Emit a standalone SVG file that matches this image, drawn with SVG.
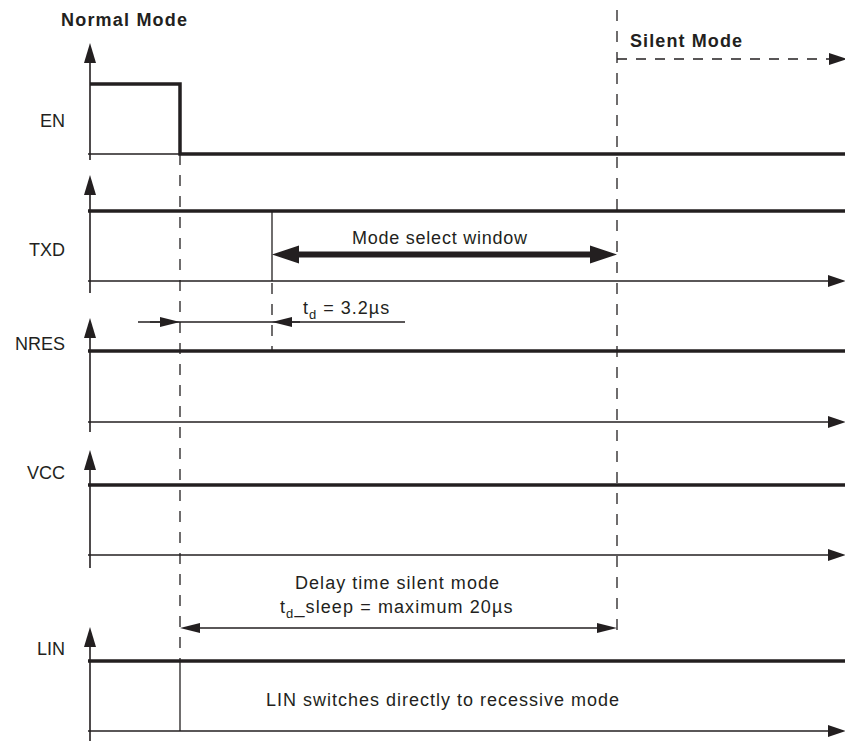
<svg xmlns="http://www.w3.org/2000/svg" width="845" height="741" viewBox="0 0 845 741">
<style>
text{font-family:"Liberation Sans",Arial,sans-serif;font-size:18px;fill:#231f20}
.b{font-weight:bold}
.lab{text-anchor:end}
.thin{stroke:#231f20;stroke-width:1.3;fill:none}
.axis{stroke:#231f20;stroke-width:1.6;fill:none}
.thick{stroke:#231f20;stroke-width:3.5;fill:none}
.dash{stroke:#231f20;stroke-width:1.3;fill:none;stroke-dasharray:11 10}
.hdash{stroke:#231f20;stroke-width:1.3;fill:none;stroke-dasharray:10 9}
</style>
<defs>
<marker id="ax" markerUnits="userSpaceOnUse" markerWidth="20" markerHeight="12" refX="0" refY="6" orient="auto" overflow="visible"><path d="M0,0 L20,6 L0,12 z" fill="#231f20"/></marker>
<marker id="end" markerUnits="userSpaceOnUse" markerWidth="18" markerHeight="12" refX="0" refY="6" orient="auto" overflow="visible"><path d="M0,0 L18,6 L0,12 z" fill="#231f20"/></marker>
<marker id="dim" markerUnits="userSpaceOnUse" markerWidth="20" markerHeight="10" refX="0" refY="5" orient="auto-start-reverse" overflow="visible"><path d="M0,0 L20,5 L0,10 z" fill="#231f20"/></marker>
<marker id="big" markerUnits="userSpaceOnUse" markerWidth="27" markerHeight="18" refX="0" refY="9" orient="auto-start-reverse" overflow="visible"><path d="M0,0 L27,9 L0,18 z" fill="#231f20"/></marker>
</defs>
<text class="b" x="61" y="26" textLength="126">Normal Mode</text>
<text class="b" x="630" y="47" textLength="112">Silent Mode</text>
<g id="EN">
<line class="axis" x1="90" y1="160" x2="90" y2="63" marker-end="url(#ax)"/>
<line class="thin" x1="88" y1="154" x2="180" y2="154"/>
<polyline class="thick" points="90,84 180,84 180,154 845,154"/>
<text class="lab" x="65" y="127">EN</text>
</g>
<g id="TXD">
<line class="axis" x1="90" y1="293" x2="90" y2="195" marker-end="url(#ax)"/>
<line class="thick" x1="88" y1="211" x2="845" y2="211"/>
<line class="thin" x1="88" y1="281" x2="828" y2="281" marker-end="url(#end)"/>
<line class="thin" x1="272" y1="211" x2="272" y2="281"/>
<text class="lab" x="65" y="256">TXD</text>
</g>
<g id="NRES">
<line class="axis" x1="90" y1="432" x2="90" y2="338" marker-end="url(#ax)"/>
<line class="thick" x1="88" y1="351" x2="845" y2="351"/>
<line class="thin" x1="88" y1="422" x2="828" y2="422" marker-end="url(#end)"/>
<text class="lab" x="65" y="350">NRES</text>
</g>
<g id="VCC">
<line class="axis" x1="90" y1="568" x2="90" y2="470" marker-end="url(#ax)"/>
<line class="thick" x1="88" y1="485" x2="845" y2="485"/>
<line class="thin" x1="88" y1="555" x2="828" y2="555" marker-end="url(#end)"/>
<text class="lab" x="65" y="479">VCC</text>
</g>
<g id="LIN">
<line class="axis" x1="90" y1="741" x2="90" y2="647" marker-end="url(#ax)"/>
<line class="thick" x1="88" y1="661" x2="845" y2="661"/>
<line class="thin" x1="88" y1="731" x2="828" y2="731" marker-end="url(#end)"/>
<line class="thin" x1="180" y1="661" x2="180" y2="731"/>
<text class="lab" x="65" y="655">LIN</text>
<text x="266" y="706" textLength="353">LIN switches directly to recessive mode</text>
</g>
<g id="connectors">
<line class="dash" x1="180" y1="154" x2="180" y2="661"/>
<line class="dash" x1="617" y1="10" x2="617" y2="640"/>
<line class="dash" x1="272" y1="283" x2="272" y2="351"/>
<line class="hdash" x1="617" y1="59" x2="829" y2="59" marker-end="url(#end)"/>
<line stroke="#231f20" stroke-width="6" x1="299" y1="254.5" x2="590" y2="254.5" marker-start="url(#big)" marker-end="url(#big)"/>
<text x="352" y="244" textLength="175">Mode select window</text>
<line class="thin" x1="138" y1="322" x2="405" y2="322"/>
<line class="thin" x1="150" y1="322" x2="160" y2="322" marker-end="url(#dim)"/>
<line class="thin" x1="300" y1="322" x2="292" y2="322" marker-end="url(#dim)"/>
<text x="303" y="314" style="letter-spacing:1px">t<tspan font-size="13" dy="5">d</tspan><tspan dy="-5"> = 3.2µs</tspan></text>
<line class="thin" x1="200" y1="628" x2="597" y2="628" marker-start="url(#dim)" marker-end="url(#dim)"/>
<text x="295" y="589" textLength="204">Delay time silent mode</text>
<text x="280" y="613" style="letter-spacing:1.1px">t<tspan font-size="13" dy="5">d</tspan><tspan dy="-5">_sleep = maximum 20µs</tspan></text>
</g>
</svg>
